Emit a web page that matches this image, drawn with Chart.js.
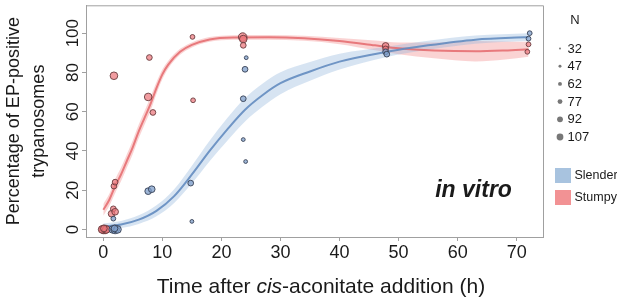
<!DOCTYPE html>
<html>
<head>
<meta charset="utf-8">
<script src="https://cdn.jsdelivr.net/npm/chart.js@4"></script>
<style>
  html, body { margin: 0; padding: 0; background: #fff; }
  #chart { display: block; }
</style>
</head>
<body>
<canvas id="chart" width="617" height="298"></canvas>
<script>
// ticks
const xTicks = [0, 10, 20, 30, 40, 50, 60, 70]
const yTicks = [0, 20, 40, 60, 80, 100]

// observed points (time h, % EP-positive, N counted)
const stumpyX = [0, 0.3, -0.2, 0.5, 0.1, 1.4, 1.7, 2.0, 1.8, 2.0, 1.8, 7.6, 8.4, 7.8, 15.1, 15.2, 23.6, 23.7, 23.7, 47.8, 47.8, 72.0, 71.8]
const stumpyY = [0, 0, 0, 0, 0.5, 8, 10.5, 9, 22.1, 24.1, 78.3, 67.5, 59.6, 87.6, 98.1, 65.8, 98, 97, 93.8, 93.5, 92, 94.3, 90.5]
const stumpyN = [107, 107, 92, 92, 77, 77, 62, 77, 62, 62, 92, 92, 62, 62, 47, 47, 107, 92, 62, 77, 62, 47, 47]

const slenderX = [1.6, 2.0, 2.4, 1.9, 1.7, 7.6, 8.2, 14.8, 15.0, 23.7, 24.1, 23.7, 24.0, 24.2, 47.8, 48.0, 72.2, 72.0]
const slenderY = [0, 0, 0, 0.5, 5.5, 19.5, 20.5, 23.6, 4.1, 45.8, 34.6, 66.6, 81.6, 87.5, 90.5, 89.3, 100, 97.2]
const slenderN = [92, 107, 92, 77, 47, 77, 77, 62, 32, 32, 32, 62, 62, 32, 62, 62, 47, 47]

// fitted curves with confidence band
const stumpyFitX = [0, 1, 2, 3, 4, 5, 6, 7, 8, 9, 10, 11, 13, 15, 18, 22, 28, 34, 40, 46, 50, 56, 63, 68, 72]
const stumpyFitY = [10, 15, 22, 28, 35, 42, 50, 57, 64, 72, 79, 84, 90.5, 94, 96.8, 97.8, 97.9, 97.4, 96, 93.8, 92.3, 91.2, 90.8, 91.2, 91.8]
const stumpyLo = [7, 12, 18.5, 24.5, 31.5, 38.5, 46.5, 53.5, 60.5, 69, 76.5, 82, 89, 92.7, 95.6, 96.6, 96.7, 96.1, 94.4, 91.3, 89.3, 87.2, 85.6, 86.6, 88]
const stumpyHi = [13, 18, 25.5, 31.5, 38.5, 45.5, 53.5, 60.5, 67.5, 75, 81.5, 86, 92, 95.3, 98, 99, 99.1, 98.7, 97.6, 96.3, 95.3, 95.2, 96, 95.8, 95.6]

const slenderFitX = [0, 3, 6, 9, 12, 15, 18, 21, 24, 27, 30, 35, 40, 48, 55, 63, 72]
const slenderFitY = [1.5, 2.5, 5, 9.5, 17, 28, 40, 51, 61, 68.5, 74.5, 80.5, 85.5, 90.5, 93.8, 96.7, 98]
const slenderLo = [0, 0.7, 2.8, 6.7, 13.5, 23.5, 34.8, 45.2, 55, 62.6, 68.9, 75.7, 81.5, 87.9, 91.5, 94.6, 96]
const slenderHi = [3, 4.3, 7.2, 12.3, 20.5, 32.5, 45.2, 56.8, 67, 74.4, 80.1, 85.3, 89.5, 93.1, 96.1, 98.8, 100]

// size legend
const legendN = [32, 47, 62, 77, 92, 107]
const groups = ['Slender', 'Stumpy']

const FONT = "'Liberation Sans', Arial, Helvetica, sans-serif"
const AXIS_GREY = '#a0a0a0'
const TEXT = '#1a1a1a'

// legend dot size; plotted points carry an extra outline
const radiusFor = (n) => 1 + 2.4 * (n - 32) / 75
const pointRadiusFor = (n) => radiusFor(n) + 0.9

const pts = (xs, ys) => xs.map((x, i) => ({ x: x, y: ys[i] }))

const band = (label, xs, ys, color, fill) => ({
    type: 'line',
    label: label,
    data: pts(xs, ys),
    borderWidth: 0,
    pointRadius: 0,
    backgroundColor: color,
    fill: fill,
    cubicInterpolationMode: 'monotone',
    order: 3
})

const fitLine = (label, xs, ys, color) => ({
    type: 'line',
    label: label,
    data: pts(xs, ys),
    borderColor: color,
    borderWidth: 2,
    pointRadius: 0,
    fill: false,
    cubicInterpolationMode: 'monotone',
    order: 2
})

const scatter = (label, xs, ys, ns, fillColor, edge) => ({
    type: 'scatter',
    label: label,
    data: pts(xs, ys),
    backgroundColor: fillColor,
    borderColor: edge,
    borderWidth: 1,
    pointRadius: (ctx) => pointRadiusFor(ns[ctx.dataIndex]),
    order: 1
})

const datasets = [
    band('Slender upper', slenderFitX, slenderHi, 'rgba(150, 185, 222, 0.38)', '+1'),
    band('Slender lower', slenderFitX, slenderLo, 'rgba(150, 185, 222, 0.38)', false),
    band('Stumpy upper', stumpyFitX, stumpyHi, 'rgba(242, 140, 140, 0.38)', '+1'),
    band('Stumpy lower', stumpyFitX, stumpyLo, 'rgba(242, 140, 140, 0.38)', false),
    fitLine('Slender fit', slenderFitX, slenderFitY, 'rgba(100, 140, 192, 0.9)'),
    fitLine('Stumpy fit', stumpyFitX, stumpyFitY, 'rgba(228, 105, 108, 0.85)'),
    scatter('Slender', slenderX, slenderY, slenderN, 'rgba(125, 158, 202, 0.75)', 'rgba(55, 65, 85, 0.9)'),
    scatter('Stumpy', stumpyX, stumpyY, stumpyN, 'rgba(236, 118, 124, 0.72)', 'rgba(105, 60, 62, 0.9)')
]

// frame, italic axis title, annotation and the N / group legend
const decorations = {
    id: 'decorations',
    afterDraw(chart) {
        const { ctx, chartArea: a, scales } = chart
        ctx.save()

        ctx.strokeStyle = AXIS_GREY
        ctx.lineWidth = 1
        ctx.beginPath()
        ctx.moveTo(a.left, a.top + 0.5)
        ctx.lineTo(a.right + 0.5, a.top + 0.5)
        ctx.lineTo(a.right + 0.5, a.bottom)
        ctx.stroke()

        // x axis title with italic "cis"
        const parts = [
            ['Time after ', 'normal'],
            ['cis', 'italic'],
            ['-aconitate addition (h)', 'normal']
        ]
        const size = 21
        let total = 0
        parts.forEach(([t, s]) => {
            ctx.font = `${s} ${size}px ${FONT}`
            total += ctx.measureText(t).width
        })
        let tx = 321 - total / 2
        ctx.fillStyle = TEXT
        ctx.textBaseline = 'alphabetic'
        ctx.textAlign = 'left'
        parts.forEach(([t, s]) => {
            ctx.font = `${s} ${size}px ${FONT}`
            ctx.fillText(t, tx, 293)
            tx += ctx.measureText(t).width
        })

        // in vitro label
        ctx.font = `italic bold 23px ${FONT}`
        ctx.fillText('in vitro', scales.x.getPixelForValue(56.2), scales.y.getPixelForValue(16.3))

        // size legend
        ctx.textAlign = 'center'
        ctx.textBaseline = 'middle'
        ctx.font = `13px ${FONT}`
        ctx.fillText('N', 575, 20)
        ctx.textAlign = 'left'
        legendN.forEach((n, i) => {
            const y = 48.5 + i * 17.7
            ctx.fillStyle = '#777'
            ctx.beginPath()
            ctx.arc(560, y, radiusFor(n), 0, Math.PI * 2)
            ctx.fill()
            ctx.fillStyle = TEXT
            ctx.fillText(String(n), 567.5, y + 0.5)
        })

        // group legend
        const boxColors = ['#a8c3df', '#f29294']
        ctx.font = `12.5px ${FONT}`
        groups.forEach((g, i) => {
            const y = 168 + i * 22
            ctx.fillStyle = boxColors[i]
            ctx.fillRect(555, y, 16, 15)
            ctx.fillStyle = TEXT
            ctx.fillText(g, 574.5, y + 8)
        })

        ctx.restore()
    }
}

const config = {
    data: { datasets: datasets },
    options: {
        responsive: false,
        animation: false,
        events: [],
        layout: { padding: { top: 1, right: 74, left: 0, bottom: 0 } },
        plugins: {
            legend: { display: false },
            tooltip: { enabled: false },
            title: { display: false }
        },
        scales: {
            x: {
                type: 'linear',
                position: 'bottom',
                min: -2.93,
                max: 74.45,
                afterBuildTicks: (scale) => { scale.ticks = xTicks.map(v => ({ value: v })) },
                afterFit: (scale) => { scale.height = 61 },
                grid: { drawOnChartArea: false, drawTicks: true, tickLength: 4, tickColor: AXIS_GREY },
                border: { display: true, color: AXIS_GREY },
                ticks: {
                    color: TEXT,
                    font: { family: FONT, size: 18 },
                    padding: 1,
                    maxRotation: 0,
                    autoSkip: false
                }
            },
            y: {
                type: 'linear',
                position: 'left',
                min: -3.85,
                max: 114.2,
                afterBuildTicks: (scale) => { scale.ticks = yTicks.map(v => ({ value: v })) },
                afterFit: (scale) => { scale.width = 86 },
                grid: { drawOnChartArea: false, drawTicks: true, tickLength: 4, tickColor: AXIS_GREY },
                border: { display: true, color: AXIS_GREY },
                ticks: {
                    color: TEXT,
                    font: { family: FONT, size: 17 },
                    minRotation: 90,
                    maxRotation: 90,
                    crossAlign: 'center',
                    padding: -5,
                    autoSkip: false
                },
                title: {
                    display: true,
                    text: ['Percentage of EP-positive', 'trypanosomes'],
                    color: TEXT,
                    font: { family: FONT, size: 18, lineHeight: 1.39 },
                    padding: { top: 2, bottom: 0 }
                }
            }
        }
    },
    plugins: [decorations]
}

const ctx = document.getElementById('chart').getContext('2d')
const chart = new Chart(ctx, config)
</script>
</body>
</html>
